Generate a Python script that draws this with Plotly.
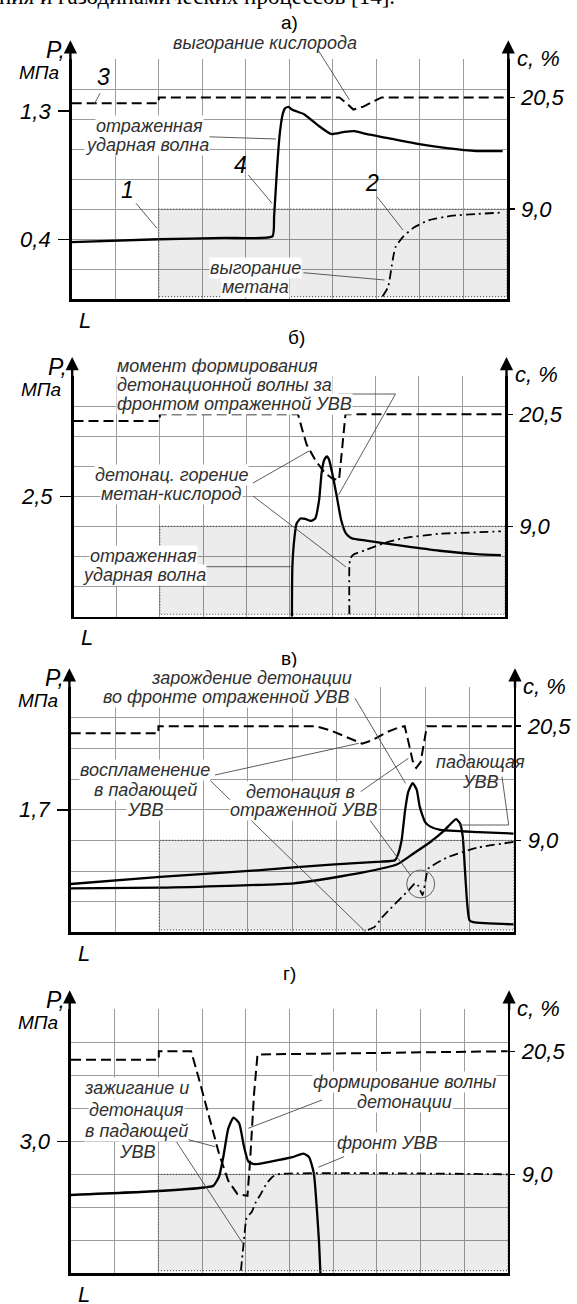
import plotly.graph_objects as go

W, H = 577, 1304

# ------------------------------------------------------------------
# DATA  (L in grid divisions 0..10, P in MPa, c in %)
# ------------------------------------------------------------------
# panel а)
a_p_L = [0, 2.0, 3.5, 4.61, 4.65, 4.72, 4.78, 4.84, 4.9, 4.98, 5.07, 5.33, 5.66, 5.96, 6.26, 6.5, 6.76, 7.27, 7.95, 8.62, 9.3, 9.9]
a_p_P = [0.38, 0.40, 0.41, 0.42, 0.56, 0.91, 1.14, 1.27, 1.32, 1.33, 1.31, 1.28, 1.20, 1.14, 1.155, 1.16, 1.14, 1.11, 1.07, 1.04, 1.02, 1.02]
a_o2_L = [0, 2.0, 2.0, 6.15, 6.3, 6.47, 6.7, 6.95, 7.12, 10]
a_o2 = [19.9, 19.9, 20.5, 20.5, 19.95, 19.25, 19.55, 20.1, 20.5, 20.5]
a_ch4_L = [7.14, 7.27, 7.35, 7.4, 7.44, 7.61, 7.86, 8.2, 8.71, 9.3, 9.9]
a_ch4 = [0, 1.0, 3.1, 4.4, 5.1, 6.15, 7.1, 7.85, 8.3, 8.5, 8.65]
a_p_ticks = [0.4, 1.3]
a_p_ticktext = ["0,4", "1,3"]

# panel б)
b_p_L = [5.06, 5.07, 5.12, 5.17, 5.26, 5.37, 5.5, 5.6, 5.69, 5.75, 5.81, 5.87, 5.92, 6.01, 6.1, 6.2, 6.31, 6.44, 6.78, 7.63, 8.48, 9.33, 9.9]
b_p_P = [0, 1.04, 1.66, 1.94, 2.04, 2.03, 1.99, 2.04, 2.43, 3.01, 3.26, 3.33, 3.26, 2.91, 2.49, 2.01, 1.73, 1.63, 1.58, 1.47, 1.37, 1.30, 1.28]
b_o2_L = [0, 2.0, 2.0, 5.2, 5.3, 5.4, 5.6, 5.82, 6.0, 6.15, 6.19, 6.3, 10]
b_o2 = [19.8, 19.8, 20.5, 20.5, 18.9, 17.4, 15.8, 14.5, 13.9, 13.75, 15.5, 20.5, 20.5]
b_ch4_L = [6.39, 6.39, 6.41, 6.48, 6.78, 7.2, 7.63, 8.48, 9.33, 9.9]
b_ch4 = [0, 4.9, 5.7, 6.1, 6.6, 7.3, 7.8, 8.25, 8.4, 8.5]
b_p_ticks = [2.5]
b_p_ticktext = ["2,5"]

# panel в)
v_p1_L = [0, 2.02, 4.21, 5.88, 7.0, 7.32, 7.4, 7.47, 7.55, 7.62, 7.72, 7.81, 7.88, 8.0, 8.11, 8.34, 9.2, 10]
v_p1_P = [0.67, 0.77, 0.86, 0.94, 0.98, 1.0, 1.1, 1.28, 1.70, 1.95, 2.07, 1.98, 1.74, 1.53, 1.47, 1.42, 1.39, 1.37]
v_p2_L = [0, 2.02, 5.04, 5.85, 6.6, 7.36, 7.73, 8.11, 8.41, 8.6, 8.7, 8.79, 8.85, 8.9, 8.95, 9.0, 9.09, 10]
v_p2_P = [0.61, 0.62, 0.68, 0.75, 0.83, 0.94, 1.09, 1.25, 1.40, 1.52, 1.57, 1.51, 1.33, 0.86, 0.40, 0.17, 0.14, 0.11]
v_o2_L = [0, 1.98, 1.98, 5.54, 5.88, 6.29, 6.58, 6.79, 7.13, 7.42, 7.54, 7.62, 7.72, 7.8, 7.9, 8.04, 10]
v_o2 = [19.8, 19.8, 20.5, 20.5, 20.05, 19.3, 18.75, 19.05, 19.9, 20.4, 20.5, 19.0, 17.0, 16.3, 16.9, 20.5, 20.5]
v_ch4_L = [6.71, 6.86, 7.04, 7.63, 7.78, 7.85, 7.94, 8.04, 8.08, 8.53, 9.21, 10]
v_ch4 = [0, 0.3, 1.3, 4.0, 4.7, 4.4, 3.5, 5.7, 6.2, 7.35, 8.3, 8.85]
v_p_ticks = [1.7]
v_p_ticktext = ["1,7"]

# panel г)
g_p_L = [0, 2.01, 3.05, 3.26, 3.39, 3.49, 3.6, 3.72, 3.85, 3.96, 4.06, 4.19, 4.57, 5.07, 5.32, 5.45, 5.56, 5.63, 5.68, 5.71]
g_p_P = [1.78, 1.87, 1.95, 1.99, 2.20, 2.66, 3.29, 3.54, 3.41, 2.88, 2.54, 2.48, 2.54, 2.64, 2.72, 2.64, 2.27, 1.44, 0.68, 0]
g_o2_L = [0, 2.01, 2.01, 2.75, 2.92, 3.13, 3.39, 3.6, 3.81, 4.04, 4.1, 4.19, 4.27, 10]
g_o2 = [19.7, 19.7, 20.5, 20.5, 18.05, 14.95, 10.9, 8.4, 7.15, 7.0, 10.25, 16.5, 20.2, 20.5]
g_ch4_L = [3.89, 3.96, 4.02, 4.14, 4.22, 4.35, 4.48, 4.61, 4.73, 10]
g_ch4 = [0, 2.85, 4.9, 5.5, 6.3, 7.2, 8.15, 8.75, 9.0, 9.0]
g_p_ticks = [3.0]
g_p_ticktext = ["3,0"]

# methane zone (shaded) and concentration axis ticks
zone_L = [2.0, 2.0, 10, 10, 2.0]
zone_c = [0, 9.0, 9.0, 0, 0]
c_ticks = [9.0, 20.5]
c_ticktext = ["9,0", "20,5"]

# ------------------------------------------------------------------
# LAYOUT / STYLE
# ------------------------------------------------------------------
GRID = "#9c9c9c"
C_RANGE = [-0.25, 24.42]
FONT = "Liberation Sans"
TXT = "#303030"
EPS = 1e-4

panels = [
    dict(left=71.7, right=507.0, top=59.3, bottom=299.0, title="а)", txy=(289, 22),
         p0=-0.02, prow=0.2106, pticks=a_p_ticks, ptext=a_p_ticktext,
         P=[(a_p_L, a_p_P)], o2=(a_o2_L, a_o2), ch4=(a_ch4_L, a_ch4)),
    dict(left=73.5, right=505.2, top=376.0, bottom=616.7, title="б)", txy=(296, 338),
         p0=-EPS, prow=0.625, pticks=b_p_ticks, ptext=b_p_ticktext,
         P=[(b_p_L, b_p_P)], o2=(b_o2_L, b_o2), ch4=(b_ch4_L, b_ch4)),
    dict(left=70.7, right=513.7, top=687.3, bottom=932.3, title="в)", txy=(289, 658),
         p0=-EPS, prow=0.425, pticks=v_p_ticks, ptext=v_p_ticktext,
         P=[(v_p1_L, v_p1_P), (v_p2_L, v_p2_P)], o2=(v_o2_L, v_o2), ch4=(v_ch4_L, v_ch4)),
    dict(left=71.0, right=507.8, top=1009.3, bottom=1273.3, title="г)", txy=(289, 973),
         p0=-EPS, prow=0.75, pticks=g_p_ticks, ptext=g_p_ticktext,
         P=[(g_p_L, g_p_P)], o2=(g_o2_L, g_o2), ch4=(g_ch4_L, g_ch4)),
]


def px(x, y):
    return x / W, 1 - y / H


annotations = []
shapes = []


def label(text, x, y, size=18, bg="white", xanchor="center", italic=True,
          color=TXT, family=FONT):
    X, Y = px(x, y)
    a = dict(text=text, x=X, y=Y, xref="paper", yref="paper", showarrow=False,
             xanchor=xanchor, yanchor="middle",
             font=dict(family=family, size=size, color=color,
                       style="italic" if italic else "normal"))
    if bg:
        a.update(bgcolor=bg, borderpad=0)
    annotations.append(a)


def leader(x0, y0, x1, y1, color="#4a4a4a", width=0.9):
    X0, Y0 = px(x0, y0)
    X1, Y1 = px(x1, y1)
    shapes.append(dict(type="line", xref="paper", yref="paper", x0=X0, y0=Y0,
                       x1=X1, y1=Y1, line=dict(color=color, width=width)))


def arrow(x, y_tip, length=21):
    X, Y = px(x, y_tip)
    annotations.append(dict(x=X, y=Y, xref="paper", yref="paper", text="",
                            showarrow=True, arrowhead=2, arrowsize=1.1,
                            arrowwidth=2.4, arrowcolor="black", ax=0, ay=length,
                            standoff=0, startstandoff=0))


fig = go.Figure()
layout = dict(width=W, height=H, margin=dict(l=0, r=0, t=0, b=0),
              paper_bgcolor="white", plot_bgcolor="rgba(0,0,0,0)", showlegend=False)

TICKFONT = dict(family=FONT, size=22, color="black", style="italic")


def yname(k):
    return "y" if k == 1 else f"y{k}"


def ykey(k):
    return "yaxis" if k == 1 else f"yaxis{k}"


for i, pn in enumerate(panels):
    xn = "" if i == 0 else str(i + 1)
    xref = "x" + xn
    pid, cid = 2 * i + 1, 2 * i + 2
    l, r, t, b = pn["left"], pn["right"], pn["top"], pn["bottom"]
    ydom = [1 - b / H, 1 - t / H]
    p0, prow = pn["p0"], pn["prow"]

    layout["xaxis" + xn] = dict(domain=[l / W, r / W], anchor=yname(pid),
                                range=[-EPS, 10 + EPS],
                                tickmode="linear", tick0=0, dtick=1, showgrid=True,
                                gridcolor=GRID, gridwidth=1, showticklabels=False,
                                ticks="", showline=True, linecolor="black", linewidth=2.6,
                                zeroline=False, fixedrange=True)
    # pressure axis (left) - carries the horizontal grid as minor gridlines
    layout[ykey(pid)] = dict(domain=ydom, anchor=xref, side="left",
                             range=[p0, p0 + 8 * prow + EPS * prow],
                             tickmode="array", tickvals=pn["pticks"],
                             ticktext=pn["ptext"], ticks="outside", ticklen=11,
                             tickwidth=1.5, tickcolor="black", showgrid=False,
                             minor=dict(tickmode="linear", tick0=p0, dtick=prow,
                                        showgrid=True, gridcolor=GRID, gridwidth=1,
                                        ticks=""),
                             showline=True, linecolor="black", linewidth=2.6,
                             zeroline=False, tickfont=TICKFONT, ticklabelstandoff=3,
                             fixedrange=True)
    # concentration axis (right)
    layout[ykey(cid)] = dict(overlaying=yname(pid), anchor=xref, side="right",
                             range=C_RANGE, tickmode="array", tickvals=c_ticks,
                             ticktext=c_ticktext, ticks="outside", ticklen=5,
                             tickwidth=1.5, tickcolor="black", showgrid=False,
                             showline=True, linecolor="black", linewidth=2.6,
                             zeroline=False, tickfont=TICKFONT, ticklabelstandoff=2,
                             fixedrange=True)

    # shaded methane zone
    fig.add_trace(go.Scatter(x=zone_L, y=zone_c, xaxis=xref, yaxis=yname(cid),
                             mode="lines", fill="toself", fillcolor="rgba(0,0,0,0.075)",
                             line=dict(color="#505050", width=1.2, dash="1px,2px"),
                             hoverinfo="skip"))
    # methane concentration (dash-dot)
    fig.add_trace(go.Scatter(x=pn["ch4"][0], y=pn["ch4"][1], xaxis=xref, yaxis=yname(cid),
                             mode="lines", line=dict(color="black", width=1.8,
                                                     dash="9px,4px,2px,4px",
                                                     shape="spline", smoothing=0.5),
                             hoverinfo="skip"))
    # oxygen concentration (dashed)
    fig.add_trace(go.Scatter(x=pn["o2"][0], y=pn["o2"][1], xaxis=xref, yaxis=yname(cid),
                             mode="lines", line=dict(color="black", width=2.0,
                                                     dash="10px,5px"),
                             hoverinfo="skip"))
    # pressure
    for (L, P) in pn["P"]:
        fig.add_trace(go.Scatter(x=L, y=P, xaxis=xref, yaxis=yname(pid), mode="lines",
                                 line=dict(color="black", width=2.3, shape="spline",
                                           smoothing=0.5),
                                 hoverinfo="skip"))

    # axis titles, arrows, panel titles
    label(pn["title"], pn["txy"][0], pn["txy"][1], size=19, bg=None, italic=False,
          color="black")
    label("P,", l - 16, t - 9, size=23, bg=None, color="black")
    label("МПа", l - 33, t + 13, size=19, bg=None, color="black")
    label("c, %", r + 31, t - 1, size=22, bg=None, color="black")
    label("L", l + 13, b + 21, size=22, bg=None, color="black")
    arrow(l - 1.3, t - 19)
    arrow(r + 1.3, t - 19)

# cropped line of page text at the very top
label("ния и газодинамических процессов [14].", -3, -4, size=23, bg=None,
      xanchor="left", italic=False, color="black", family="Liberation Serif")

# ---------------- panel а) labels ----------------
label("выгорание кислорода", 265, 43, bg=None)
leader(318, 50, 349.5, 100)
label("3", 103, 77, size=23, bg=None, color="black")
leader(100, 93.3, 94.3, 104)
label("отраженная", 149, 126)
label("ударная волна", 147, 145)
leader(200, 136.5, 276, 139)
label("4", 241, 165, size=23, bg=None, color="black")
leader(248.3, 175, 272, 203.3)
label("1", 127, 190, size=23, bg=None, color="black")
leader(136, 203.3, 157, 228.3)
label("2", 371.6, 182.7, size=23, bg=None, color="black")
leader(377, 196.7, 403, 230)
label("выгорание", 255.7, 268.3)
label("метана", 255.7, 286.7)
leader(303.5, 272.7, 384.5, 280)

# ---------------- panel б) labels ----------------
label("момент формирования", 116, 366, xanchor="left")
label("детонационной волны за", 116, 385, xanchor="left")
label("фронтом отраженной УВВ", 116, 404, xanchor="left")
leader(338, 394, 395.5, 394)
leader(395.5, 394, 338.5, 495)
label("детонац. горение", 171, 475)
label("метан-кислород", 171, 494)
leader(253, 483, 309, 451)
leader(253, 496, 346, 567)
label("отраженная", 143.5, 556)
label("ударная волна", 143.5, 575)
leader(206, 566.7, 290.6, 566.7)

# ---------------- panel в) labels ----------------
label("зарождение детонации", 251, 678.3)
label("во фронте отраженной УВВ", 226, 697.3)
leader(355, 698.3, 405.5, 783.3)
label("воспламенение", 145.3, 770)
label("в падающей", 145.3, 790)
label("УВВ", 146, 810)
leader(215, 775, 358.7, 743.3)
leader(209.7, 780, 366, 932.3)
label("детонация в", 300, 791.7)
label("отраженной УВВ", 304.4, 810)
leader(360.6, 791.7, 408.4, 758.3)
leader(369.8, 820, 411, 876)
label("падающая", 480.3, 761.7, bg=None)
label("УВВ", 480.3, 781.7, bg=None)
leader(502, 776.7, 508.7, 825)
leader(508.7, 825, 458.7, 825)
cx, cy = px(420.7, 884)
rx, ry = 14 / W, 14 / H
shapes.append(dict(type="circle", xref="paper", yref="paper", x0=cx - rx, x1=cx + rx,
                   y0=cy - ry, y1=cy + ry, line=dict(color="#555", width=0.9)))

# ---------------- panel г) labels ----------------
label("зажигание и", 136, 1088.3)
label("детонация", 136, 1110)
label("в падающей", 136, 1130.7)
label("УВВ", 137, 1151.7)
leader(182, 1138, 215.2, 1146.7)
leader(176.6, 1142, 242.8, 1243.3)
label("формирование волны", 404.8, 1081.7)
label("детонации", 404.8, 1102.3)
leader(322, 1100, 248.3, 1128.3)
label("фронт УВВ", 387.3, 1143.3)
leader(344, 1156.7, 318.3, 1167.3)

layout["annotations"] = annotations
layout["shapes"] = shapes
fig.update_layout(**layout)
fig.write_html("out.html",
               config=dict(displayModeBar=False, staticPlot=True),
               post_script="document.body.style.margin='0px';"
                           "document.body.style.overflow='hidden';"
                           "document.documentElement.style.overflow='hidden';")
